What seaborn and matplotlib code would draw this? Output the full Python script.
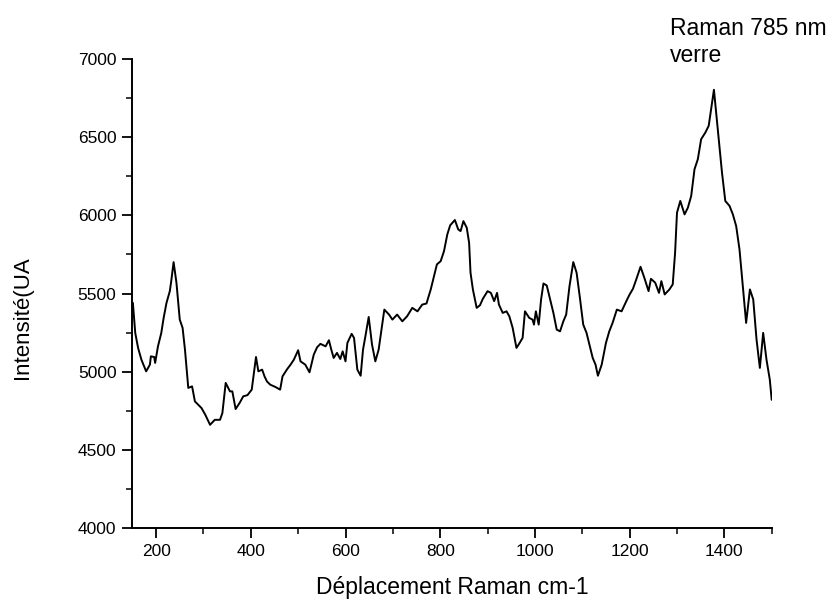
import matplotlib
matplotlib.use("Agg")
import matplotlib.pyplot as plt
import seaborn as sns
import pandas as pd
from matplotlib.ticker import MultipleLocator

# Raman shift (cm-1) and intensity (UA)
shift = [151, 156, 162, 169, 179, 187, 189, 196, 198, 204, 211, 216, 222, 229, 232, 237,
         243, 250, 256, 261, 268, 276, 282, 289, 296, 304, 314, 324, 335, 340, 347, 356,
         361, 368, 377, 384, 393, 402, 411, 416, 424, 429, 434, 441, 452, 462, 467, 477,
         484, 491, 500, 505, 515, 524, 533, 540, 547, 558, 565, 570, 575, 582, 589, 594,
         600, 604, 613, 618, 625, 632, 637, 642, 649, 656, 663, 670, 682, 692, 699, 709,
         720, 730, 741, 752, 762, 771, 780, 786, 793, 801, 808, 815, 821, 831, 838, 843,
         849, 856, 861, 864, 869, 877, 884, 890, 900, 907, 914, 920, 924, 932, 940, 946,
         953, 961, 967, 974, 979, 988, 995, 998, 1002, 1008, 1013, 1018, 1025, 1032, 1039,
         1046, 1053, 1060, 1066, 1073, 1081, 1088, 1095, 1102, 1109, 1116, 1122, 1128,
         1133, 1141, 1150, 1157, 1164, 1173, 1183, 1193, 1200, 1207, 1214, 1223, 1231,
         1240, 1245, 1254, 1262, 1267, 1274, 1284, 1291, 1296, 1300, 1307, 1316, 1323,
         1330, 1337, 1344, 1351, 1360, 1367, 1372, 1378, 1383, 1388, 1395, 1402, 1411,
         1418, 1425, 1432, 1439, 1446, 1454, 1461, 1468, 1475, 1482, 1489, 1496, 1500]
intensity = [5440, 5248, 5152, 5077, 5002, 5045, 5098, 5094, 5056, 5162, 5248, 5344, 5440,
             5515, 5579, 5701, 5569, 5333, 5280, 5141, 4896, 4906, 4810, 4788, 4767, 4724,
             4660, 4692, 4692, 4735, 4928, 4874, 4874, 4761, 4803, 4842, 4850, 4885, 5094,
             5002, 5013, 4970, 4938, 4917, 4902, 4885, 4970, 5017, 5045, 5077, 5137, 5066,
             5045, 4996, 5109, 5156, 5178, 5162, 5201, 5141, 5088, 5120, 5081, 5130, 5066,
             5184, 5242, 5216, 5013, 4974, 5141, 5226, 5350, 5173, 5066, 5141, 5397, 5365,
             5333, 5365, 5322, 5354, 5408, 5386, 5429, 5436, 5526, 5601, 5686, 5707, 5771,
             5878, 5936, 5970, 5910, 5899, 5963, 5921, 5825, 5633, 5526, 5408, 5425, 5466,
             5515, 5504, 5451, 5504, 5429, 5376, 5386, 5354, 5280, 5152, 5180, 5216, 5386,
             5344, 5333, 5301, 5386, 5301, 5462, 5564, 5551, 5462, 5376, 5269, 5258, 5322,
             5365, 5547, 5701, 5633, 5472, 5301, 5248, 5162, 5088, 5045, 4974, 5045, 5184,
             5258, 5312, 5397, 5386, 5451, 5494, 5530, 5590, 5671, 5601, 5515, 5594, 5569,
             5504, 5579, 5494, 5526, 5558, 5761, 6017, 6092, 6006, 6049, 6124, 6295, 6359,
             6487, 6530, 6573, 6679, 6803, 6647, 6487, 6274, 6092, 6060, 6006, 5931, 5782,
             5547, 5312, 5526, 5462, 5205, 5024, 5248, 5077, 4949, 4820]

x_label = "Déplacement Raman cm-1"
y_label = "Intensité(UA"
note_lines = ["Raman 785 nm", "verre"]

df = pd.DataFrame({"shift": shift, "intensity": intensity})

sns.set_theme(style="ticks")
plt.rcParams["font.family"] = ["Liberation Sans", "DejaVu Sans"]
plt.rcParams["text.color"] = "black"

fig = plt.figure(figsize=(8.31, 5.99), dpi=100)
ax = fig.add_axes([132.4 / 831, 71 / 599, 639.3 / 831, 469 / 599])

sns.lineplot(data=df, x="shift", y="intensity", ax=ax, color="black",
             linewidth=1.4, estimator=None, sort=False)

ax.set_xlim(150, 1500)
ax.set_ylim(4000, 7000)
ax.xaxis.set_major_locator(MultipleLocator(200))
ax.xaxis.set_minor_locator(MultipleLocator(100))
ax.yaxis.set_major_locator(MultipleLocator(500))
ax.yaxis.set_minor_locator(MultipleLocator(250))

for s in ["top", "right"]:
    ax.spines[s].set_visible(False)
for s in ["left", "bottom"]:
    ax.spines[s].set_linewidth(1.4)
    ax.spines[s].set_color("black")

ax.tick_params(which="major", direction="out", length=7.5, width=1.3,
               color="black", labelsize=12.5, labelcolor="black", pad=4)
ax.tick_params(which="minor", direction="out", length=4, width=1.1, color="black")

ax.set_xlabel(x_label, fontsize=16.5, color="black")
ax.set_ylabel(y_label, fontsize=16, color="black")
ax.xaxis.set_label_coords(0.5, -0.102)
ax.yaxis.set_label_coords(-0.155, 0.448)

fig.text(670 / 831, 1 - 35 / 599, note_lines[0], fontsize=16.5, va="baseline", ha="left",
         color="black")
fig.text(670 / 831, 1 - 62 / 599, note_lines[1], fontsize=16.5, va="baseline", ha="left",
         color="black")

fig.savefig("out.png", dpi=100, facecolor="white")
